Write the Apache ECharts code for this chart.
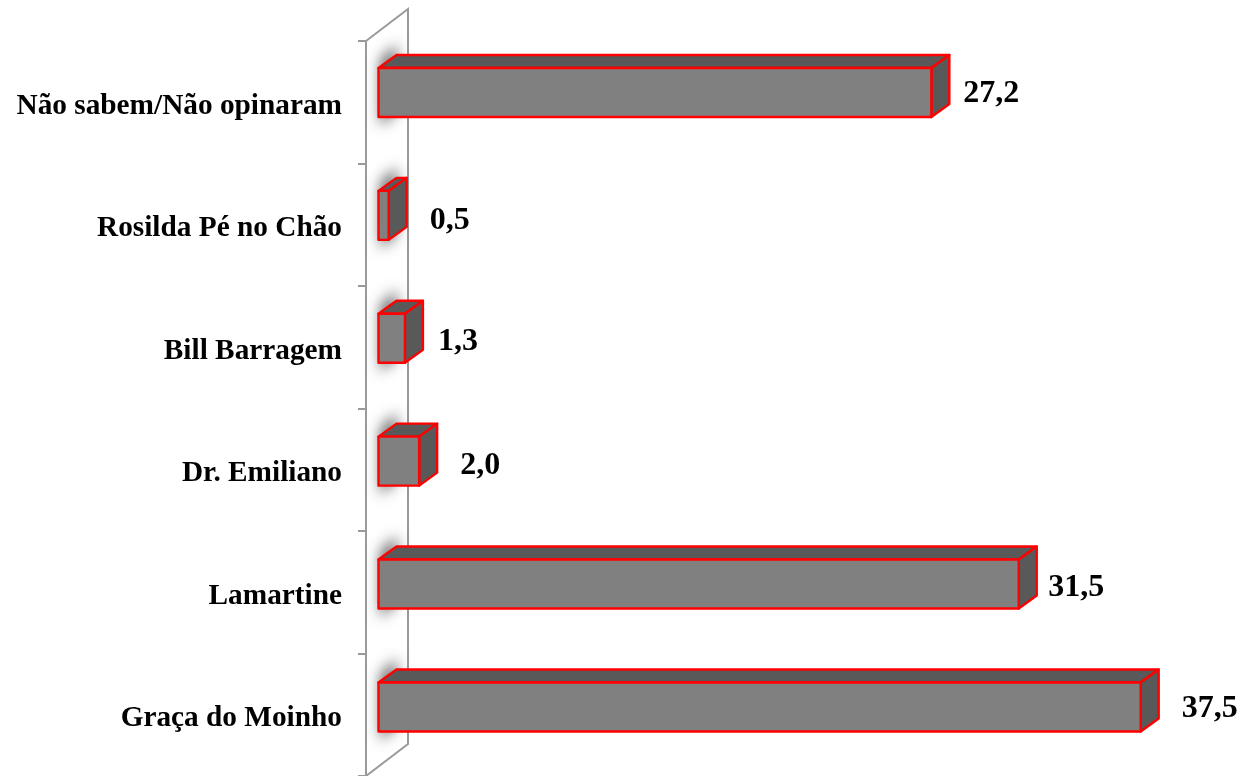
<!DOCTYPE html>
<html><head><meta charset="utf-8">
<style>html,body{margin:0;padding:0;background:#fff}#c{width:1240px;height:776px}</style>
<script src="https://cdn.jsdelivr.net/npm/echarts@6/dist/echarts.min.js"></script>
</head><body><div id="c"></div>
<script>
const categories = ["Não sabem/Não opinaram","Rosilda Pé no Chão","Bill Barragem","Dr. Emiliano","Lamartine","Graça do Moinho"];
const values = [27.2,0.5,1.3,2.0,31.5,37.5];
const valueLabels = ["27,2","0,5","1,3","2,0","31,5","37,5"];

const DX=18, DY=-13, BAR_H=49, BAR_SHIFT=-9.8, BAR_STEP_NUDGE=0.4;
const WALL_LEFT=12.5, WALL_DX=42, WALL_DY=-32;
const LABEL_DX=[14,23,15,23,11.5,23], LABEL_DY=[1,5,3,5,3.5,2];
const RED='#ff0000', FRONT='#808080', DARK='#595959', GREY='#9a9a9a';
const OFF=3000;

const chart = echarts.init(document.getElementById('c'),null,{renderer:'canvas'});
function renderWall(params,api){
  const cs=params.coordSys;
  const x0=cs.x-WALL_LEFT, y0=cs.y, y1=cs.y+cs.height;
  return {type:'polyline',silent:true,z2:1,
    shape:{points:[[x0,y0],[x0+WALL_DX,y0+WALL_DY],[x0+WALL_DX,y1+WALL_DY],[x0,y1]]},
    style:{fill:null,stroke:GREY,lineWidth:2}};
}
function renderBar(params,api){
  const i=api.value(0);
  const c0=api.coord([0,categories[i]]);
  const c1=api.coord([api.value(1),categories[i]]);
  const xl=c0[0], xr=c1[0], yc=c0[1]+BAR_SHIFT+i*BAR_STEP_NUDGE;
  const yt=yc-BAR_H/2, yb=yc+BAR_H/2;
  const edge={stroke:RED,lineWidth:2.4,lineJoin:'round'};
  return {type:'group',children:[
    {type:'polygon',silent:true,shape:{points:[[xl+2-OFF,yt-8],[xl+18-OFF,yt-24],[xl+18-OFF,yb-6],[xl+2-OFF,yb+9]]},
      style:{fill:'#000',shadowBlur:14,shadowOffsetX:OFF,shadowColor:'rgba(80,80,80,0.9)'}},
    {type:'polygon',shape:{points:[[xl,yt],[xl+DX,yt+DY],[xr+DX,yt+DY],[xr,yt]]},style:Object.assign({fill:DARK},edge)},
    {type:'polygon',shape:{points:[[xr,yt],[xr+DX,yt+DY],[xr+DX,yb+DY],[xr,yb]]},style:Object.assign({fill:DARK},edge)},
    {type:'rect',shape:{x:xl,y:yt,width:xr-xl,height:BAR_H},style:Object.assign({fill:FRONT},edge)},
    {type:'text',style:{text:valueLabels[i],x:xr+DX+LABEL_DX[i],y:yc+LABEL_DY[i],
      fill:'#000',font:'bold 32px "Liberation Serif"',align:'left',verticalAlign:'middle'}}
  ]};
}
chart.setOption({
  animation:false,
  grid:{left:378.5,top:41,width:813,height:737},
  xAxis:{type:'value',min:0,max:40,show:false},
  yAxis:{type:'category',inverse:true,data:categories,offset:WALL_LEFT,
    axisLine:{show:true,onZero:false,lineStyle:{color:GREY,width:2}},
    axisTick:{show:true,length:8,lineStyle:{color:GREY,width:2}},
    axisLabel:{margin:24,color:'#000',fontFamily:'Liberation Serif',fontWeight:'bold',fontSize:29.3,verticalAlign:'top',lineHeight:8}},
  series:[
    {type:'custom',coordinateSystem:'cartesian2d',data:[[0]],renderItem:renderWall,z:1,silent:true,clip:false},
    {type:'custom',coordinateSystem:'cartesian2d',encode:{x:1,y:0},data:values.map((v,i)=>[i,v]),renderItem:renderBar,z:2,silent:true,clip:false}
  ]
});
</script></body></html>
